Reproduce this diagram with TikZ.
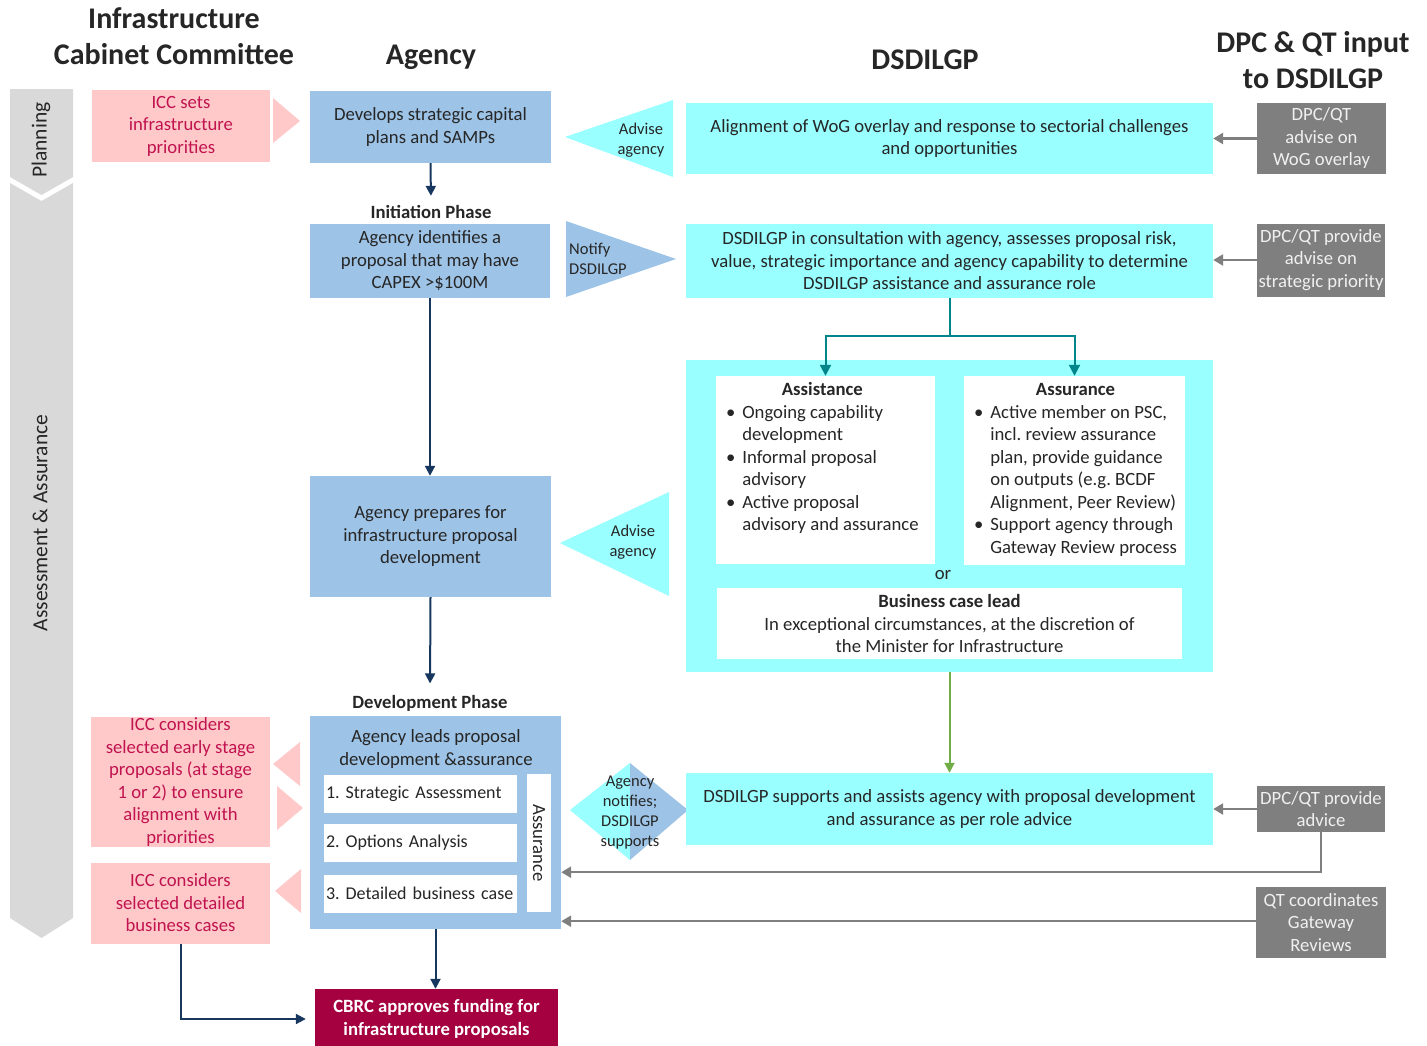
\documentclass[tikz,border=0pt]{standalone}
\usepackage{fontspec}
\setmainfont{Carlito}
\usepackage{tikz}
\usetikzlibrary{arrows.meta, positioning}
\definecolor{iccpink}{HTML}{FFC9C9}
\definecolor{icctext}{HTML}{C0134F}
\definecolor{agblue}{HTML}{9DC3E6}
\definecolor{dscyan}{HTML}{99FFFF}
\definecolor{qtgray}{HTML}{7F7F7F}
\definecolor{bargray}{HTML}{D9D9D9}
\definecolor{navy}{HTML}{17375E}
\definecolor{dsteal}{HTML}{00868B}
\definecolor{dsgreen}{HTML}{70AD47}
\definecolor{cbrcred}{HTML}{A5003F}
\newcommand\bodyfont{\fontsize{18.7}{22.5}\selectfont\frenchspacing}

\begin{document}
\begin{tikzpicture}
[x=1pt, y=-1pt,
   every node/.style={font=\bodyfont, text=black!85},
   flow/.style={draw=navy, line width=2pt, arrows={-Triangle[width=10pt,length=10pt]}},
   split/.style={draw=dsteal, line width=2pt, arrows={-Triangle[width=11pt,length=11pt]}},
   input/.style={draw=qtgray, line width=2.5pt, arrows={-Triangle[width=11pt,length=10pt]}},
   greenflow/.style={draw=dsgreen, line width=2pt, arrows={-Triangle[width=10pt,length=10pt]}},
   title/.style={font=\fontsize{30}{36}\selectfont\bfseries, align=center},
   barlabel/.style={font=\fontsize{21.5}{26}\selectfont, rotate=90},
   phase/.style={font=\bodyfont\bfseries},
   small/.style={font=\fontsize{16.5}{20}\selectfont, align=center},
   iccG/.style={shape=rectangle, fill=iccpink, text=icctext, align=center, inner sep=0pt},
   agencyG/.style={shape=rectangle, fill=agblue, align=center, inner sep=0pt},
   dsG/.style={shape=rectangle, fill=dscyan, align=center, inner sep=0pt},
   qtG/.style={shape=rectangle, fill=qtgray, text=white!94!black, align=center, inner sep=0pt},
   whiteG/.style={shape=rectangle, fill=white, align=center, inner sep=0pt},
   stageG/.style={shape=rectangle, fill=white, font=\fontsize{18}{22.5}\selectfont\frenchspacing, text width=189pt, align=left, inner xsep=2pt, inner ysep=0pt, minimum height=38pt},
   listG/.style={inner sep=0pt},
   cbrcG/.style={shape=rectangle, fill=cbrcred, text=white, font=\bodyfont\bfseries, align=center, inner sep=0pt}]
\useasboundingbox (0,0) rectangle (1427,1045);
% column headings
\node[title] (iccT) at (174,36) {Infrastructure\\Cabinet Committee};
\node[title] (agT) at (431,57) {Agency};
\node[title] (dsT) at (925,60) {DSDILGP};
\node[title] (qtT) at (1313,60) {DPC \& QT input\\to DSDILGP};
% stage bars
\fill[bargray] (10,89) -- (73,89) -- (73,177) -- (41.5,195) -- (10,177) -- cycle;
\fill[bargray] (10,183) -- (41.5,201) -- (73,183) -- (73,918) -- (41.5,938) -- (10,918) -- cycle;
\node[barlabel] (planL) at (41,140) {Planning};
\node[barlabel] (assL) at (40,523) {Assessment \& Assurance};
% ICC
\node[iccG, minimum width=178pt, minimum height=72pt] (iccSet) at (181,126) {ICC sets\\infrastructure\\priorities};
\fill[iccpink] (273,98) -- (300,121) -- (273,143) -- cycle;
\node[iccG, minimum width=179pt, minimum height=130pt] (iccEarly) at (180.5,782) {ICC considers\\selected early stage\\proposals (at stage\\1 or 2) to ensure\\alignment with\\priorities};
\fill[iccpink] (300,742) -- (273,764) -- (300,786) -- cycle;
\fill[iccpink] (277,786) -- (303,808) -- (277,830) -- cycle;
\node[iccG, minimum width=179pt, minimum height=81pt] (iccDet) at (180.5,903) {ICC considers\\selected detailed\\business cases};
\fill[iccpink] (301,869) -- (275,891) -- (301,913) -- cycle;
% agency
\node[agencyG, minimum width=241pt, minimum height=72pt] (plans) at (430.5,127) {Develops strategic capital\\plans and SAMPs};
\node[phase] (initP) at (431,212) {Initiation Phase};
\node[agencyG, minimum width=240pt, minimum height=74pt] (identify) at (430,261) {Agency identifies a\\proposal that may have\\CAPEX >\$100M};
\node[agencyG, minimum width=241pt, minimum height=121pt] (prepare) at (430.5,536.5) {Agency prepares for\\infrastructure proposal\\development};
\node[phase] (devP) at (430,703) {Development Phase};
\node[agencyG, minimum width=251pt, minimum height=213pt] (develop) at (435.5,822.5) {};
\node[align=center] (leads) at (436,749) {Agency leads proposal\\development \&assurance};
\node[stageG] (stage1) at (420.5,794) {\mbox{1. Strategic Assessment}};
\node[stageG] (stage2) at (420.5,843) {\mbox{2. Options Analysis}};
\node[stageG] (stage3) at (420.5,893.5) {\mbox{3. Detailed business case}};
\node[whiteG, rotate=-90, minimum width=138pt, minimum height=24pt] (assur) at (539,843) {Assurance};
\node[cbrcG, minimum width=243pt, minimum height=60pt] (cbrc) at (436.5,1019) {CBRC approves funding for\\infrastructure proposals};
% pointers between columns
\fill[dscyan] (673,100) -- (565,137) -- (673,177) -- cycle;
\node[small] (adv1) at (641,140) {Advise\\agency};
\fill[agblue] (566,221) -- (676,259) -- (566,297) -- cycle;
\node[small, align=left, anchor=west, inner sep=0pt] (notify) at (569,259) {Notify\\DSDILGP};
\fill[dscyan] (669,492) -- (560,543) -- (669,596) -- cycle;
\node[small] (adv2) at (633,542) {Advise\\agency};
\fill[dscyan] (630,763) -- (570,810) -- (630,860) -- cycle;
\fill[agblue] (630,763) -- (688,810) -- (630,860) -- cycle;
\node[small] (notifies) at (630,813) {Agency\\notifies;\\DSDILGP\\supports};
% DSDILGP
\node[dsG, minimum width=527pt, minimum height=71pt] (align) at (949.5,138.5) {Alignment of WoG overlay and response to sectorial challenges\\and opportunities};
\node[dsG, minimum width=527pt, minimum height=74pt] (consult) at (949.5,261) {DSDILGP in consultation with agency, assesses proposal  risk,\\value, strategic importance and agency capability to determine\\DSDILGP assistance and assurance role};
\node[dsG, minimum width=527pt, minimum height=312pt] (role) at (949.5,516) {};
\node[whiteG, minimum width=219pt, minimum height=188pt] (assist) at (825.5,470) {};
\node[whiteG, minimum width=221pt, minimum height=189pt] (assure) at (1074.5,470.5) {};
\node[listG, below right=4pt and 10pt of assist.north west] (assistL) {\begin{tabular}{@{}l@{\hspace{7pt}}l@{}}
\multicolumn{2}{c}{\textbf{Assistance}}\\
\textbullet & Ongoing capability\\
 & development\\
\textbullet & Informal proposal\\
 & advisory\\
\textbullet & Active proposal\\
 & advisory and assurance
\end{tabular}};
\node[listG, below right=4pt and 10pt of assure.north west] (assureL) {\begin{tabular}{@{}l@{\hspace{7pt}}l@{}}
\multicolumn{2}{c}{\textbf{Assurance}}\\
\textbullet & Active member on PSC,\\
 & incl. review assurance\\
 & plan, provide guidance\\
 & on outputs (e.g. BCDF\\
 & Alignment, Peer Review)\\
\textbullet & Support agency through\\
 & Gateway Review process
\end{tabular}};
\node (orL) at (943,575) {or};
\node[whiteG, minimum width=465pt, minimum height=71pt] (bclead) at (949.5,623.5) {\textbf{Business case lead}\\In exceptional circumstances, at the discretion of\\the Minister for Infrastructure};
\node[dsG, minimum width=527pt, minimum height=72pt] (supports) at (949.5,809) {DSDILGP supports and assists agency with proposal development\\and assurance as per role advice};
% DPC & QT
\node[qtG, minimum width=129pt, minimum height=71pt] (qtWoG) at (1321.5,138.5) {DPC/QT\\advise on\\WoG overlay};
\node[qtG, minimum width=128pt, minimum height=73pt] (qtPrio) at (1321,260) {DPC/QT provide\\advise on\\strategic priority};
\node[qtG, minimum width=128pt, minimum height=46pt] (qtAdv) at (1321,809) {DPC/QT provide\\advice};
\node[qtG, minimum width=130pt, minimum height=71pt] (qtGate) at (1321,922.5) {QT coordinates\\Gateway\\Reviews};
% connectors
\draw[flow, shorten >=6pt] (plans.south) -- (initP.north);
\draw[flow] (identify.south) -- (identify.south |- prepare.north);
\draw[flow, shorten >=8pt] (prepare.south) -- (devP.north);
\draw[flow] (develop.south) -- (develop.south |- cbrc.north);
\draw[flow, shorten >=9pt] (iccDet.south) |- (cbrc.west);
\coordinate (fork) at (949.5,336);
\draw[split] (consult.south) -- (fork) -| (assist.north);
\draw[split] (fork) -| (assure.north);
\draw[greenflow] (role.south) -- (supports.north);
\draw[input] (qtWoG.west) -- (qtWoG.west -| align.east);
\draw[input] (qtPrio.west) -- (qtPrio.west -| consult.east);
\draw[input] (qtAdv.west) -- (supports.east);
\coordinate[above=57pt of develop.south east] (devIn1);
\coordinate[above=8pt of develop.south east] (devIn2);
\draw[input] (qtAdv.south) |- (devIn1);
\draw[input] (devIn2 -| qtGate.west) -- (devIn2);
\end{tikzpicture}
\end{document}
